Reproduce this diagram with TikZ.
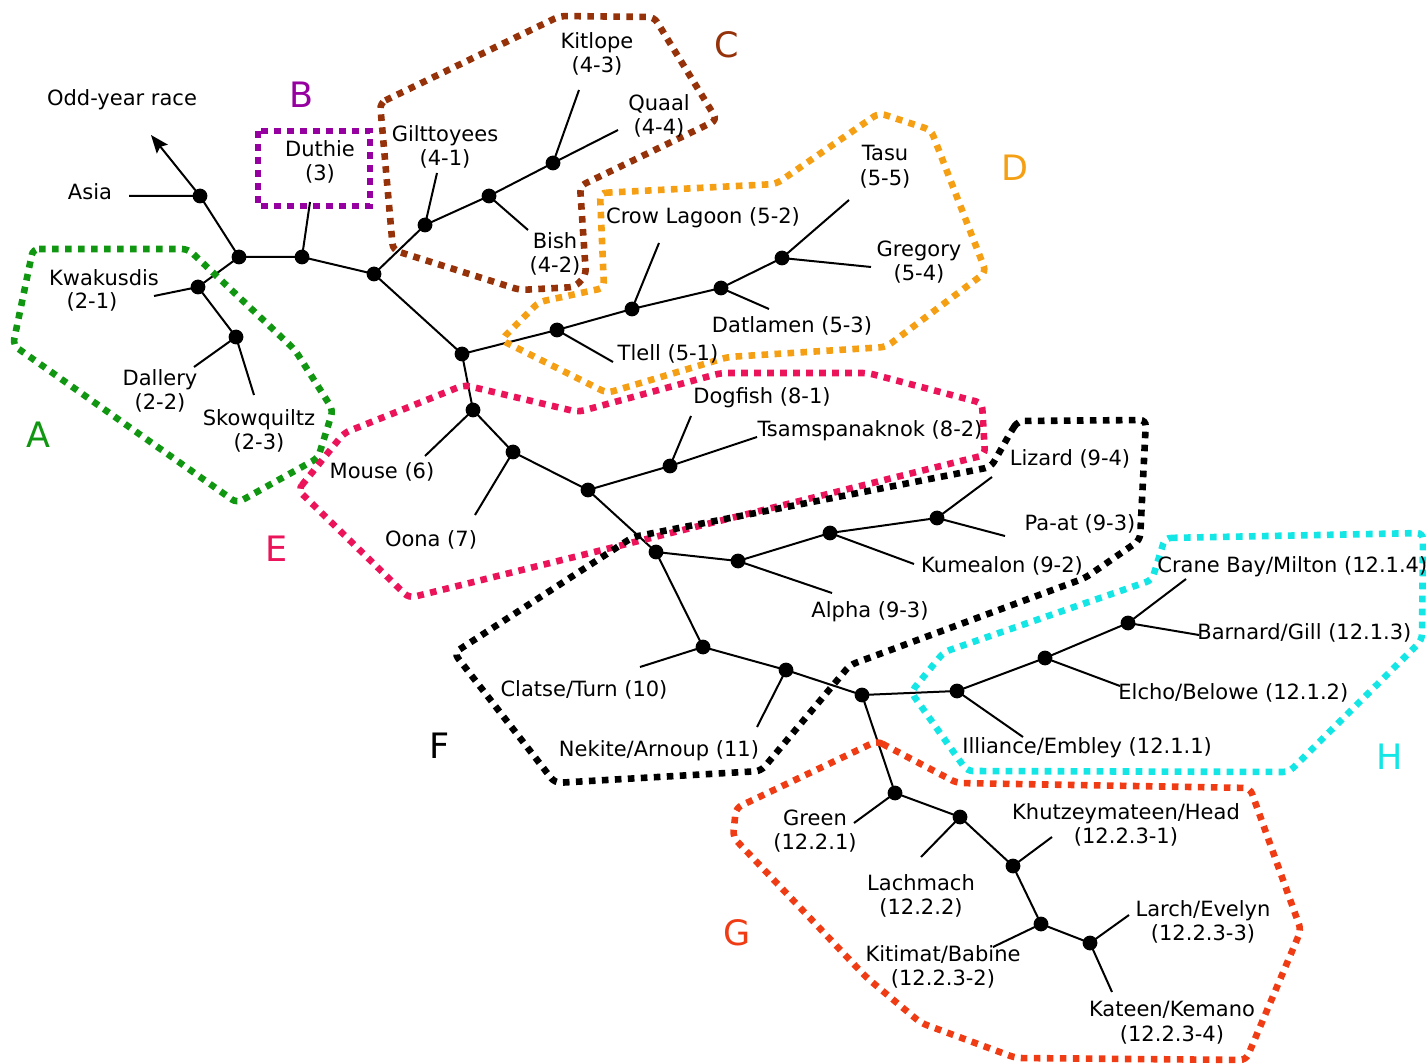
\documentclass[tikz,border=0pt]{standalone}
\usepackage{fontspec}
\setmainfont{DejaVu Sans}
\usetikzlibrary{arrows.meta}
\definecolor{grpA}{RGB}{16,150,16}
\definecolor{grpB}{RGB}{150,0,160}
\definecolor{grpC}{RGB}{150,50,10}
\definecolor{grpD}{RGB}{245,160,20}
\definecolor{grpE}{RGB}{235,20,90}
\definecolor{grpF}{RGB}{0,0,0}
\definecolor{grpG}{RGB}{240,60,20}
\definecolor{grpH}{RGB}{20,230,230}
\newcommand\lblfont{\fontsize{10.5}{12.4}\selectfont}
\newcommand\grpfont{\fontsize{17.5}{20}\selectfont}
\begin{document}
\begin{tikzpicture}[x=0.5pt,y=-0.5pt,
  branch/.style={line width=1pt},
  dot/.style={circle,fill=black,inner sep=0pt,minimum size=7.4pt},
  lbl/.style={font=\lblfont,inner sep=0pt,align=center},
  grp/.style={font=\grpfont,inner sep=0pt},
  zone/.style={line width=3.3pt,dash pattern=on 3.3pt off 3.2pt,rounded corners=3pt},
]
\useasboundingbox (0,0) rectangle (1426,1064);

% branching points of the tree
\coordinate (asia) at (200,196);
\coordinate (k1) at (239,257);
\coordinate (kw) at (198,287);
\coordinate (da) at (236,337);
\coordinate (k2) at (302,257);
\coordinate (k3) at (374,274);
\coordinate (gi) at (425,225);
\coordinate (bi) at (489,196);
\coordinate (kq) at (553,163);
\coordinate (k4) at (462,354);
\coordinate (tl) at (557,330);
\coordinate (cl) at (632,309);
\coordinate (dm) at (721,288);
\coordinate (tg) at (782,258);
\coordinate (mo) at (473,410);
\coordinate (oo) at (513,452);
\coordinate (k5) at (588,490);
\coordinate (dt) at (670,466);
\coordinate (k6) at (656,552);
\coordinate (al) at (738,561);
\coordinate (ku) at (830,533);
\coordinate (lp) at (937,518);
\coordinate (ct) at (703,647);
\coordinate (na) at (786,670);
\coordinate (k7) at (862,695);
\coordinate (ie) at (957,691);
\coordinate (el) at (1045,658);
\coordinate (cb) at (1128,623);
\coordinate (gr) at (895,793);
\coordinate (la) at (960,817);
\coordinate (kh) at (1013,866);
\coordinate (ki) at (1041,924);
\coordinate (lk) at (1090,943);

% free ends of the leaf branches
\coordinate (tip) at (151,135);
\coordinate (asia-e) at (129,196);
\coordinate (kw-e) at (154,296);
\coordinate (da-e) at (194,367);
\coordinate (sk-e) at (254,395);
\coordinate (du-e) at (310,202);
\coordinate (gi-e) at (437,173);
\coordinate (bi-e) at (528,230);
\coordinate (klp-e) at (579,90);
\coordinate (qu-e) at (618,130);
\coordinate (cl-e) at (659,243);
\coordinate (tl-e) at (613,362);
\coordinate (dm-e) at (769,309);
\coordinate (ta-e) at (849,200);
\coordinate (gg-e) at (871,267);
\coordinate (mo-e) at (425,456);
\coordinate (oo-e) at (475,515);
\coordinate (do-e) at (691,416);
\coordinate (ts-e) at (757,437);
\coordinate (liz-e) at (992,477);
\coordinate (pa-e) at (1005,536);
\coordinate (kum-e) at (914,564);
\coordinate (alp-e) at (832,593);
\coordinate (cla-e) at (640,667);
\coordinate (nek-e) at (757,727);
\coordinate (ill-e) at (1023,737);
\coordinate (elc-e) at (1120,686);
\coordinate (bar-e) at (1199,635);
\coordinate (cra-e) at (1186,579);
\coordinate (gre-e) at (854,823);
\coordinate (lac-e) at (921,857);
\coordinate (khu-e) at (1052,837);
\coordinate (kbn-e) at (993,947);
\coordinate (lar-e) at (1129,915);
\coordinate (kat-e) at (1112,992);

% branches
\draw[branch,-{Stealth[length=9pt,width=7pt,inset=1.5pt]}] (asia) -- (tip);
\draw[branch] (asia) -- (asia-e) (asia) -- (k1)
  (k1) -- (kw) (kw) -- (kw-e) (kw) -- (da) (da) -- (da-e) (da) -- (sk-e)
  (k1) -- (k2) (k2) -- (du-e) (k2) -- (k3)
  (k3) -- (gi) (gi) -- (gi-e) (gi) -- (bi) (bi) -- (bi-e) (bi) -- (kq)
  (kq) -- (klp-e) (kq) -- (qu-e)
  (k3) -- (k4) (k4) -- (tl) (tl) -- (tl-e) (tl) -- (cl) (cl) -- (cl-e)
  (cl) -- (dm) (dm) -- (dm-e) (dm) -- (tg) (tg) -- (ta-e) (tg) -- (gg-e)
  (k4) -- (mo) (mo) -- (mo-e) (mo) -- (oo) (oo) -- (oo-e) (oo) -- (k5)
  (k5) -- (dt) (dt) -- (do-e) (dt) -- (ts-e)
  (k5) -- (k6) (k6) -- (al) (al) -- (alp-e) (al) -- (ku) (ku) -- (kum-e)
  (ku) -- (lp) (lp) -- (liz-e) (lp) -- (pa-e)
  (k6) -- (ct) (ct) -- (cla-e) (ct) -- (na) (na) -- (nek-e) (na) -- (k7)
  (k7) -- (ie) (ie) -- (ill-e) (ie) -- (el) (el) -- (elc-e) (el) -- (cb)
  (cb) -- (cra-e) (cb) -- (bar-e)
  (k7) -- (gr) (gr) -- (gre-e) (gr) -- (la) (la) -- (lac-e) (la) -- (kh)
  (kh) -- (khu-e) (kh) -- (ki) (ki) -- (kbn-e) (ki) -- (lk)
  (lk) -- (lar-e) (lk) -- (kat-e);

% population groups
\draw[zone,grpA] (33,249) -- (188,249) -- (295,350) -- (333,410) -- (318,458)
  -- (237,503) -- (13,345) -- cycle;
\draw[zone,grpB,rounded corners=0pt] (258,131) rectangle (370,206);
\draw[zone,grpC] (380,103) -- (560,16) -- (654,17) -- (717,120) -- (580,186)
  -- (586,275) -- (575,287) -- (520,290) -- (393,250) -- cycle;
\draw[zone,grpD] (600,193) -- (776,184) -- (879,113) -- (931,130) -- (986,272)
  -- (886,347) -- (728,357) -- (607,393) -- (501,340) -- (539,302)
  -- (604,288) -- cycle;
\draw[zone,grpE] (298,490) -- (344,433) -- (464,385) -- (578,412) -- (721,373)
  -- (868,373) -- (982,403) -- (985,455) -- (409,598) -- cycle;
\draw[zone,grpF] (1012,430) -- (1018,421) -- (1146,420) -- (1140,540)
  -- (1085,578) -- (850,665) -- (761,771) -- (555,783) -- (454,653)
  -- (633,537) -- (991,467) -- cycle;
\draw[zone,grpG] (877,741) -- (957,783) -- (1250,788) -- (1301,930)
  -- (1246,1060) -- (1016,1058) -- (921,1023) -- (866,977) -- (733,837)
  -- (736,808) -- cycle;
\draw[zone,grpH] (1165,538) -- (1423,533) -- (1422,640) -- (1289,772)
  -- (967,771) -- (911,692) -- (944,652) -- (1152,580) -- cycle;

% junction dots
\foreach \p in {asia,k1,kw,da,k2,k3,gi,bi,kq,k4,tl,cl,dm,tg,mo,oo,k5,dt,k6,al,
  ku,lp,ct,na,k7,ie,el,cb,gr,la,kh,ki,lk}
  \node[dot] (\p-dot) at (\p) {};

% labels
\node[lbl] (odd) at (122,100) {Odd-year race};
\node[lbl] (l-asia) at (90,192) {Asia};
\node[lbl] (l-kw1) at (104,278) {Kwakusdis};
\node[lbl] (l-kw2) at (92,302) {(2-1)};
\node[lbl] (l-da) at (160,391) {Dallery\\(2-2)};
\node[lbl] (l-sk) at (259,431) {Skowquiltz\\(2-3)};
\node[lbl] (l-du) at (320,162) {Duthie\\(3)};
\node[lbl] (l-gi) at (445,147) {Gilttoyees\\(4-1)};
\node[lbl] (l-klp) at (597,54) {Kitlope\\(4-3)};
\node[lbl] (l-qu) at (659,116) {Quaal\\(4-4)};
\node[lbl] (l-bi) at (555,254) {Bish\\(4-2)};
\node[lbl] (l-ta) at (885,167) {Tasu\\(5-5)};
\node[lbl] (l-gg) at (919,262) {Gregory\\(5-4)};
\node[lbl] (l-cl) at (703,218) {Crow Lagoon (5-2)};
\node[lbl] (l-dm) at (792,326) {Datlamen (5-3)};
\node[lbl] (l-tl) at (668,354) {Tlell (5-1)};
\node[lbl] (l-mo) at (382,472) {Mouse (6)};
\node[lbl] (l-oo) at (431,540) {Oona (7)};
\node[lbl] (l-do) at (762,398) {Dogfish (8-1)};
\node[lbl] (l-ts) at (870,431) {Tsamspanaknok (8-2)};
\node[lbl] (l-liz) at (1070,459) {Lizard (9-4)};
\node[lbl] (l-pa) at (1080,524) {Pa-at (9-3)};
\node[lbl] (l-kum) at (1002,566) {Kumealon (9-2)};
\node[lbl] (l-alp) at (870,612) {Alpha (9-3)};
\node[lbl] (l-cla) at (584,690) {Clatse/Turn (10)};
\node[lbl] (l-nek) at (659,751) {Nekite/Arnoup (11)};
\node[lbl,anchor=west] (l-cra) at (1157,567) {Crane Bay/Milton (12.1.4)};
\node[lbl,anchor=west] (l-bar) at (1197,633) {Barnard/Gill (12.1.3)};
\node[lbl,anchor=west] (l-elc) at (1118,693) {Elcho/Belowe (12.1.2)};
\node[lbl,anchor=west] (l-ill) at (962,748) {Illiance/Embley (12.1.1)};
\node[lbl] (l-gre) at (815,831) {Green\\(12.2.1)};
\node[lbl] (l-khu) at (1126,825) {Khutzeymateen/Head\\(12.2.3-1)};
\node[lbl] (l-lac) at (921,896) {Lachmach\\(12.2.2)};
\node[lbl] (l-lar) at (1203,922) {Larch/Evelyn\\(12.2.3-3)};
\node[lbl] (l-kbn) at (943,967) {Kitimat/Babine\\(12.2.3-2)};
\node[lbl] (l-kat) at (1172,1023) {Kateen/Kemano\\(12.2.3-4)};

% group letters
\node[grp,grpA] (g-a) at (38,435) {A};
\node[grp,grpB] (g-b) at (302,95) {B};
\node[grp,grpC] (g-c) at (727,45) {C};
\node[grp,grpD] (g-d) at (1015,168) {D};
\node[grp,grpE] (g-e) at (277,549) {E};
\node[grp,grpF] (g-f) at (440,746) {F};
\node[grp,grpG] (g-g) at (737,933) {G};
\node[grp,grpH] (g-h) at (1390,757) {H};
\end{tikzpicture}
\end{document}
